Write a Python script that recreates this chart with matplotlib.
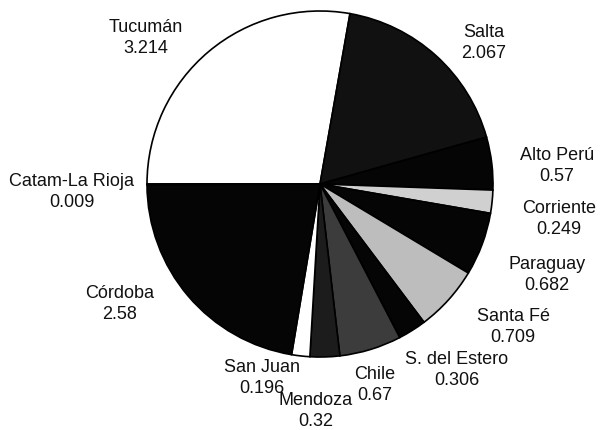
import matplotlib.pyplot as plt

provinces = ['Tucumán', 'Salta', 'Alto Perú', 'Corriente', 'Paraguay', 'Santa Fé',
             'S. del Estero', 'Chile', 'Mendoza', 'San Juan', 'Córdoba', 'Catam-La Rioja']
values = [3.214, 2.067, 0.57, 0.249, 0.682, 0.709, 0.306, 0.67, 0.32, 0.196, 2.58, 0.009]
value_labels = ['3.214', '2.067', '0.57', '0.249', '0.682', '0.709',
                '0.306', '0.67', '0.32', '0.196', '2.58', '0.009']

colors = ['white', '#111111', '#050505', '#d0d0d0', '#050505', '#bdbdbd',
          '#050505', '#3c3c3c', '#1c1c1c', 'white', '#050505', 'white']

# label centres (data units, pie radius = 1)
label_pos = [(-1.006, 0.844), (0.948, 0.815), (1.370, 0.104), (1.382, -0.202),
             (1.312, -0.526), (1.116, -0.827), (0.792, -1.075), (0.318, -1.162),
             (-0.023, -1.312), (-0.335, -1.121), (-1.156, -0.694), (-1.434, -0.046)]

plt.rcParams['font.family'] = ['Liberation Sans', 'DejaVu Sans']

fig = plt.figure(figsize=(6.01, 4.30), dpi=100)
ax = fig.add_axes([0, 0, 1, 1])

ax.pie(values, colors=colors, startangle=180, counterclock=False, radius=1.0,
       wedgeprops={'edgecolor': 'black', 'linewidth': 1.2})

for name, val, (x, y) in zip(provinces, value_labels, label_pos):
    ax.text(x, y, name + '\n' + val, ha='center', va='center', multialignment='center',
            fontsize=13, color='#111111', linespacing=1.3)

ax.set_xlim(-320 / 173, 281 / 173)
ax.set_ylim(-246 / 173, 184 / 173)
ax.set_aspect('equal')
ax.axis('off')

fig.savefig('out.png', dpi=100)
